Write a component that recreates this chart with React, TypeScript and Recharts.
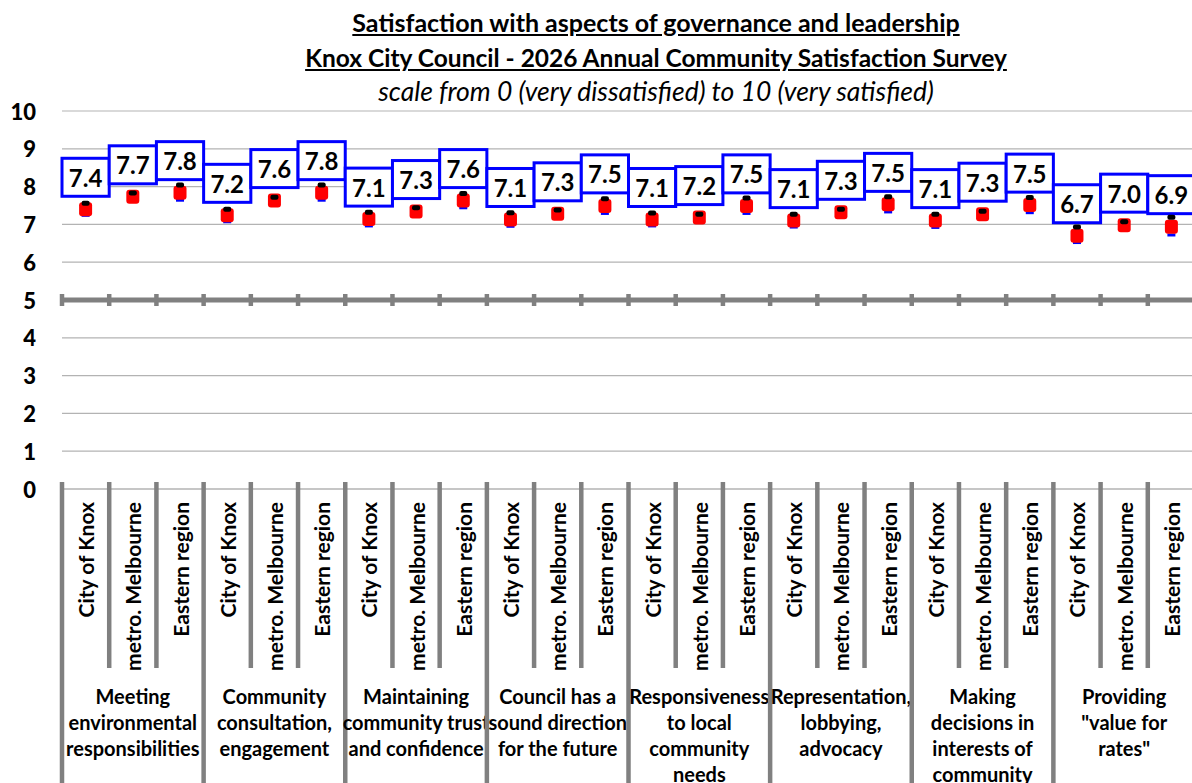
import { ComposedChart, Line, XAxis, YAxis, CartesianGrid, ReferenceLine } from 'recharts'

const AREAS = ['City of Knox', 'metro. Melbourne', 'Eastern region']

const GROUPS = [
  ['Meeting', 'environmental', 'responsibilities'],
  ['Community', 'consultation,', 'engagement'],
  ['Maintaining', 'community trust', 'and confidence'],
  ['Council has a', 'sound direction', 'for the future'],
  ['Responsiveness', 'to local', 'community', 'needs'],
  ['Representation,', 'lobbying,', 'advocacy'],
  ['Making', 'decisions in', 'interests of', 'community'],
  ['Providing', '"value for', 'rates"'],
]

// average satisfaction, three areas per aspect
const MEAN = [
  7.40, 7.73, 7.84,
  7.24, 7.63, 7.84,
  7.14, 7.34, 7.63,
  7.13, 7.28, 7.49,
  7.13, 7.18, 7.49,
  7.10, 7.32, 7.53,
  7.10, 7.27, 7.51,
  6.70, 6.98, 6.94,
]

// 95% confidence interval ends
const UPPER = [
  7.56, 7.83, 8.04,
  7.40, 7.72, 8.04,
  7.32, 7.44, 7.82,
  7.31, 7.38, 7.68,
  7.30, 7.27, 7.70,
  7.27, 7.40, 7.73,
  7.27, 7.35, 7.71,
  6.93, 7.07, 7.19,
]
const LOWER = [
  7.24, 7.64, 7.64,
  7.07, 7.54, 7.64,
  6.96, 7.25, 7.44,
  6.95, 7.19, 7.29,
  6.96, 7.10, 7.29,
  6.93, 7.24, 7.33,
  6.92, 7.19, 7.31,
  6.52, 6.89, 6.72,
]

const Y_TICKS = [0, 1, 2, 3, 4, 5, 6, 7, 8, 9, 10]

const data = MEAN.map((m, i) => ({
  key: `c${i}`,
  area: AREAS[i % 3],
  mean: m,
  upper: UPPER[i],
  lower: LOWER[i],
}))

const CHART_W = 1200
const CHART_H = 800
const MARGIN = { top: 111, right: 5, bottom: 11, left: 0 }
const Y_AXIS_W = 62
const X_AXIS_H = 300
const BAND = (CHART_W - MARGIN.left - MARGIN.right - Y_AXIS_W) / data.length
const FONT = 'Lato, "Noto Sans", sans-serif'
const GRAY = '#808080'

function CategoryTick(props: any) {
  const { x, y, payload } = props
  const i = payload.index ?? props.index
  const left = x - BAND / 2
  const groupStart = i % 3 === 0
  return (
    <g>
      <line x1={left} x2={left} y1={y - 7} y2={groupStart ? CHART_H : 668} stroke={GRAY} strokeWidth={4.5} />
      {i === data.length - 1 && (
        <line x1={x + BAND / 2} x2={x + BAND / 2} y1={y - 7} y2={CHART_H} stroke={GRAY} strokeWidth={4.5} />
      )}
      <text
        transform={`translate(${x},${y + 13}) rotate(-90)`}
        textAnchor="end"
        dominantBaseline="central"
        fontFamily={FONT}
        fontWeight={700}
        fontSize={21}
        fill="#000"
      >
        {AREAS[i % 3]}
      </text>
      {i % 3 === 1 &&
        GROUPS[Math.floor(i / 3)].map((line, k) => (
          <text
            key={k}
            x={x}
            y={y + 207 + k * 26}
            textAnchor="middle"
            dominantBaseline="central"
            fontFamily={FONT}
            fontWeight={700}
            fontSize={20}
            fill="#000"
          >
            {line}
          </text>
        ))}
    </g>
  )
}

function ValueTick(props: any) {
  const { x, y, payload } = props
  return (
    <text
      x={x}
      y={y}
      textAnchor="end"
      dominantBaseline="central"
      fill="#000"
      style={{ fontFamily: FONT, fontWeight: 900, fontSize: 22 }}
    >
      {payload.value}
    </text>
  )
}

function MeanDot(props: any) {
  const { cx, cy, value, index } = props
  if (cx == null || cy == null) return <g key={index} />
  return (
    <g key={index}>
      <rect x={cx - 6.5} y={cy - 7} width={13} height={14} rx={3} fill="#FF0000" />
      <rect x={cx - BAND / 2} y={cy - 13 - 38} width={BAND} height={38} fill="#fff" stroke="#0000FF" strokeWidth={3} />
      <text
        x={cx}
        y={cy - 13 - 19}
        textAnchor="middle"
        dominantBaseline="central"
        fontFamily={FONT}
        fontWeight={700}
        fontSize={24}
        fill="#000"
      >
        {Number(value).toFixed(1)}
      </text>
    </g>
  )
}

function UpperDot(props: any) {
  const { cx, cy, index } = props
  if (cx == null || cy == null) return <g key={index} />
  return <rect key={index} x={cx - 4} y={cy - 2.5} width={8} height={5} rx={2} fill="#000" />
}

function LowerDot(props: any) {
  const { cx, cy, index } = props
  if (cx == null || cy == null) return <g key={index} />
  return <rect key={index} x={cx - 4} y={cy - 1.5} width={8} height={3} fill="#0000FF" />
}

function BreakLine(props: any) {
  const { x1, y1, x2 } = props
  const n = data.length
  const step = (x2 - x1) / n
  return (
    <g>
      <line x1={x1} x2={x2} y1={y1} y2={y1} stroke={GRAY} strokeWidth={5} />
      {data.map((_, k) => (
        <line key={k} x1={x1 + k * step} x2={x1 + k * step} y1={y1 - 6} y2={y1 + 6} stroke={GRAY} strokeWidth={4.5} />
      ))}
      <line x1={x2} x2={x2} y1={y1 - 6} y2={y1 + 6} stroke={GRAY} strokeWidth={4.5} />
    </g>
  )
}

const titleStyle: React.CSSProperties = {
  position: 'absolute',
  left: 0,
  width: 1312,
  textAlign: 'center',
  fontFamily: FONT,
  fontSize: 25,
  lineHeight: '28px',
  color: '#000',
  whiteSpace: 'nowrap',
}

export default function App() {
  return (
    <div style={{ position: 'fixed', left: 0, top: 0, width: 1192, height: 783, overflow: 'hidden', background: '#fff' }}>
      <div style={{ ...titleStyle, top: 8, fontWeight: 700, textDecoration: 'underline' }}>
        Satisfaction with aspects of governance and leadership
      </div>
      <div style={{ ...titleStyle, top: 44, fontWeight: 700, textDecoration: 'underline', fontSize: 24.5 }}>
        Knox City Council - 2026 Annual Community Satisfaction Survey
      </div>
      <div style={{ ...titleStyle, top: 77, fontStyle: 'italic', fontSize: 26.5 }}>
        scale from 0 (very dissatisfied) to 10 (very satisfied)
      </div>
      <div style={{ position: 'absolute', left: 0, top: 0 }}>
        <ComposedChart width={CHART_W} height={CHART_H} data={data} margin={MARGIN}>
          <CartesianGrid vertical={false} stroke="#b3b3b3" strokeWidth={1.2} />
          <XAxis
            dataKey="key"
            type="category"
            height={X_AXIS_H}
            interval={0}
            padding={{ left: BAND / 2, right: BAND / 2 }}
            tickLine={false}
            tickSize={0}
            tickMargin={0}
            axisLine={{ stroke: '#b3b3b3', strokeWidth: 1.2 }}
            tick={<CategoryTick />}
          />
          <YAxis
            type="number"
            domain={[0, 10]}
            ticks={Y_TICKS}
            width={Y_AXIS_W}
            axisLine={false}
            tickLine={false}
            tickSize={0}
            tickMargin={26}
            tick={<ValueTick />}
          />
          <ReferenceLine y={5} shape={(p: any) => <BreakLine {...p} />} />
          <Line dataKey="lower" stroke="none" dot={(p: any) => <LowerDot {...p} key={p.index} />} activeDot={false} isAnimationActive={false} />
          <Line dataKey="mean" stroke="none" dot={(p: any) => <MeanDot {...p} key={p.index} />} activeDot={false} isAnimationActive={false} />
          <Line dataKey="upper" stroke="none" dot={(p: any) => <UpperDot {...p} key={p.index} />} activeDot={false} isAnimationActive={false} />
        </ComposedChart>
      </div>
    </div>
  )
}
